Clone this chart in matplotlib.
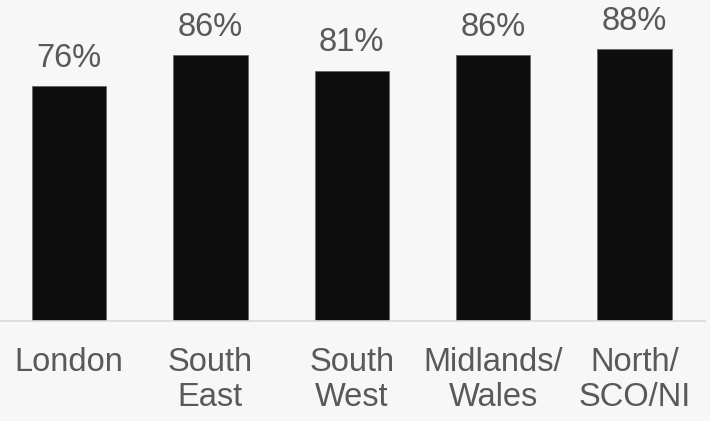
import matplotlib
matplotlib.use('Agg')
import matplotlib.pyplot as plt

# Data
regions = ['London', 'South\nEast', 'South\nWest', 'Midlands/\nWales', 'North/\nSCO/NI']
values = [76, 86, 81, 86, 88]

BG = '#f7f7f7'
TEXT = '#595959'

plt.rcParams['font.family'] = ['Liberation Sans', 'DejaVu Sans']

fig = plt.figure(figsize=(7.10, 4.21), dpi=100)
fig.patch.set_facecolor(BG)
ax = fig.add_axes([-1.7 / 710, 100 / 421, 707 / 710, 309 / 421])
ax.set_facecolor(BG)

x = range(len(regions))
bars = ax.bar(x, values, width=0.527, color='#0d0d0d', edgecolor='#666666', linewidth=0.6)

for xi, v in zip(x, values):
    ax.annotate(f'{v}%', (xi, v), textcoords='offset points', xytext=(0, 9),
                ha='center', va='bottom', fontsize=23.5, color=TEXT)

ax.set_xlim(-0.5, 4.5)
ax.set_ylim(0, 100)
ax.set_xticks(list(x))
ax.set_xticklabels(regions, fontsize=23.5, color=TEXT, linespacing=1.17)
ax.tick_params(axis='x', length=0, pad=19)
ax.set_yticks([])

for side in ['top', 'right', 'left']:
    ax.spines[side].set_visible(False)
ax.spines['bottom'].set_color('#d9d9d9')
ax.spines['bottom'].set_linewidth(1.2)

plt.savefig('out.png', dpi=100, facecolor=fig.get_facecolor())
